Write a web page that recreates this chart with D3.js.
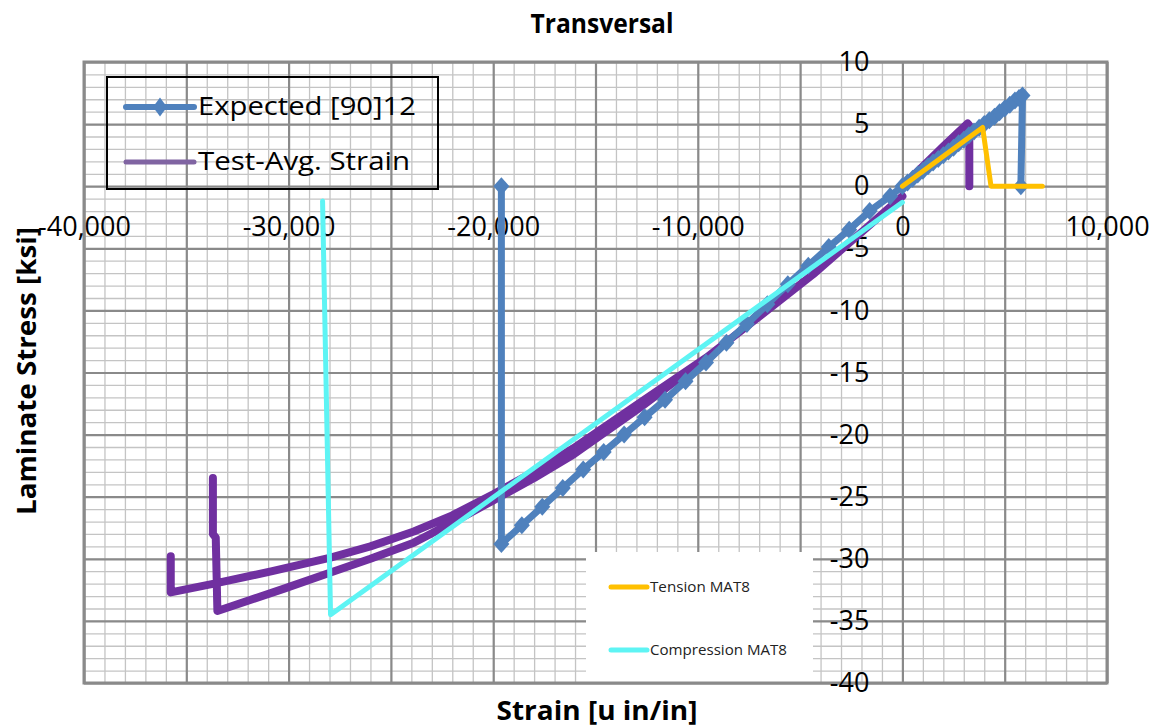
<!DOCTYPE html>
<html>
<head>
<meta charset="utf-8">
<script src="https://cdn.jsdelivr.net/npm/d3@7/dist/d3.min.js"></script>
<style>
  body { margin: 0; background: #fff; }
  text { font-family: "Open Sans", "DejaVu Sans", sans-serif; }
</style>
</head>
<body>
<svg id="chart" width="1164" height="727"></svg>
<script>
// values (strain in micro in/in, stress in ksi)

// Expected [90]12 (blue, diamond markers)
const expStrain = [-19600, -19600, -18600, -17600, -16600, -15600, -14600, -13600, -12600, -11600, -10600,
  -9600, -8600, -7600, -6600, -5600, -4600, -3600, -2600, -1600, -600, 0,
  250, 500, 750, 1000, 1250, 1500, 1750, 2000, 2250, 2500, 2750, 3000, 3250, 3500, 3750, 4000,
  4250, 4500, 4750, 5000, 5250, 5500, 5700, 5870, 5790]
const expStress = [0, -28.8, -27.3, -25.8, -24.3, -22.8, -21.4, -20.0, -18.6, -17.2, -15.7,
  -14.2, -12.6, -11.1, -9.5, -7.9, -6.4, -4.9, -3.5, -2.0, -0.8, 0,
  0.3, 0.6, 0.95, 1.25, 1.6, 1.9, 2.2, 2.5, 2.8, 3.1, 3.45, 3.75, 4.1, 4.4, 4.7, 5.0,
  5.3, 5.6, 5.95, 6.25, 6.55, 6.9, 7.1, 7.3, 0]

// Test-Avg. Strain (purple), null = break between specimens
const testStrain = [0, 1000, 2000, 3190, 3270, 3270, null,
  0, -2000, -4370, -7000, -9580, -12800, -16080, -18000, -20000, -22000, -23880, -26000, -27950, -30800, -33640, -35760, -35760, null,
  -9580, -12800, -16080, -18000, -20000, -22000, -23880, -26000, -27950, -30220, -33480, -33560, -33700, -33700]
const testStress = [0, 1.6, 3.2, 5.05, 4.9, 0, null,
  -0.8, -3.7, -7.1, -10.5, -13.8, -17.4, -21.1, -23.0, -24.8, -26.5, -27.8, -29.0, -29.9, -31.0, -32.0, -32.7, -29.8, null,
  -13.8, -17.8, -21.6, -23.5, -25.3, -27.1, -28.7, -30.0, -31.1, -32.4, -34.2, -28.3, -28.0, -23.5]

// Tension MAT8 (orange)
const tenStrain = [0, 3920, 4330, 6840]
const tenStress = [0, 4.73, 0, 0]

// Compression MAT8 (cyan)
const compStrain = [-28340, -27950, 0]
const compStress = [-1.2, -34.5, -1.3]

const xTicks = [-40000, -30000, -20000, -10000, 0, 10000]
const yTicks = [-40, -35, -30, -25, -20, -15, -10, -5, 0, 5, 10]

const legendTop = ["Expected [90]12", "Test-Avg. Strain"]
const legendBottom = ["Tension MAT8", "Compression MAT8"]

const colors = {exp: "#4F81BD", test: "#7030A0", testLegend: "#8064A2", ten: "#FFC000", comp: "#5EF4F4"}

const zip = (a, b) => a.map((v, i) => (v === null ? null : [v, b[i]]))

const svg = d3.select('#chart')
const pLeft = 84, pRight = 1107, pTop = 62, pBottom = 683

const x = d3.scaleLinear().domain([-40000, 10000]).range([pLeft, pRight])
const y = d3.scaleLinear().domain([-40, 10]).range([pBottom, pTop])

const fmt = d3.formatLocale({decimal: ".", thousands: ",", grouping: [3], currency: ["", ""], minus: "-"}).format(",")

// gridlines: minor then major
const grid = (step, color, width) => {
	const gx = svg.append('g')
		.attr('transform', `translate(0,${pBottom})`)
		.call(d3.axisBottom(x).tickValues(d3.range(-40000, 10001, step)).tickSize(-(pBottom - pTop)).tickFormat(''))
	const gy = svg.append('g')
		.attr('transform', `translate(${pLeft},0)`)
		.call(d3.axisLeft(y).tickValues(d3.range(-40, 10.01, step / 1000)).tickSize(-(pRight - pLeft)).tickFormat(''))
	for (const g of [gx, gy]) {
		g.select('.domain').remove()
		g.selectAll('line').attr('stroke', color).attr('stroke-width', width)
	}
}
grid(1000, '#c4c4c4', 1.3)
grid(5000, '#8a8a8a', 2.2)

// second legend box hides the grid behind it
svg.append('rect')
	.attr('x', 586).attr('y', 552).attr('width', 227).attr('height', 131)
	.attr('fill', '#fff')

// plot border
svg.append('rect')
	.attr('x', pLeft).attr('y', pTop).attr('width', pRight - pLeft).attr('height', pBottom - pTop)
	.attr('fill', 'none').attr('stroke', '#8a8a8a').attr('stroke-width', 3)

// tick labels, crossing at zero like the excel chart
const xAxis = svg.append('g')
	.attr('transform', `translate(0,${y(0)})`)
	.call(d3.axisBottom(x).tickValues(xTicks).tickSize(0).tickPadding(31).tickFormat(fmt))
const yAxis = svg.append('g')
	.attr('transform', `translate(${x(0)},0)`)
	.call(d3.axisLeft(y).tickValues(yTicks).tickSize(0).tickPadding(33).tickFormat(fmt))
for (const g of [xAxis, yAxis]) {
	g.select('.domain').remove()
	g.attr('font-family', null).attr('font-size', 27)
	g.selectAll('text').attr('fill', '#000')
}

// titles
svg.append('text')
	.attr('x', 602).attr('y', 33)
	.attr('text-anchor', 'middle').attr('font-weight', 'bold').attr('font-size', 26)
	.attr('textLength', 143).attr('lengthAdjust', 'spacingAndGlyphs')
	.text('Transversal')
svg.append('text')
	.attr('x', 597).attr('y', 720)
	.attr('text-anchor', 'middle').attr('font-weight', 'bold').attr('font-size', 27)
	.attr('textLength', 201).attr('lengthAdjust', 'spacingAndGlyphs')
	.text('Strain [u in/in]')
svg.append('text')
	.attr('transform', 'translate(36,371) rotate(-90)')
	.attr('text-anchor', 'middle').attr('font-weight', 'bold').attr('font-size', 27)
	.attr('textLength', 288).attr('lengthAdjust', 'spacingAndGlyphs')
	.text('Laminate Stress [ksi]')

// series
const line = d3.line()
	.defined(d => d !== null)
	.x(d => x(d[0]))
	.y(d => y(d[1]))

const drawSeries = (data, color, width) => {
	svg.append('path')
		.datum(data)
		.attr('d', line)
		.attr('fill', 'none')
		.attr('stroke', color)
		.attr('stroke-width', width)
		.attr('stroke-linejoin', 'round')
		.attr('stroke-linecap', 'round')
}

const diamond = (cx, cy, rx, ry) => `M${cx},${cy - ry}L${cx + rx},${cy}L${cx},${cy + ry}L${cx - rx},${cy}Z`

drawSeries(zip(testStrain, testStress), colors.test, 8)

const expData = zip(expStrain, expStress)
drawSeries(expData, colors.exp, 7)
svg.append('g')
	.selectAll('path')
	.data(expData)
	.join('path')
	.attr('d', d => diamond(x(d[0]), y(d[1]), 8, 9))
	.attr('fill', colors.exp)

drawSeries(zip(tenStrain, tenStress), colors.ten, 5)
drawSeries(zip(compStrain, compStress), colors.comp, 5)

// legend 1 (top left, outlined, transparent)
svg.append('rect')
	.attr('x', 107).attr('y', 77).attr('width', 331).attr('height', 112)
	.attr('fill', 'none').attr('stroke', '#000').attr('stroke-width', 2)

const leg1 = [{y: 107, color: colors.exp, marker: true, w: 218}, {y: 162, color: colors.testLegend, marker: false, w: 212}]
leg1.forEach((d, i) => {
	svg.append('line')
		.attr('x1', 126).attr('x2', 194).attr('y1', d.y).attr('y2', d.y)
		.attr('stroke', d.color).attr('stroke-width', d.marker ? 6 : 5).attr('stroke-linecap', 'round')
	if (d.marker) {
		svg.append('path').attr('d', diamond(160, d.y, 7, 9.5)).attr('fill', d.color)
	}
	svg.append('text')
		.attr('x', 198).attr('y', d.y + 8)
		.attr('font-size', 25)
		.attr('textLength', d.w).attr('lengthAdjust', 'spacingAndGlyphs')
		.text(legendTop[i])
})

// legend 2 (bottom, white box)
const leg2 = [{y: 587, color: colors.ten, w: 100}, {y: 650, color: colors.comp, w: 137}]
leg2.forEach((d, i) => {
	svg.append('line')
		.attr('x1', 611).attr('x2', 647).attr('y1', d.y).attr('y2', d.y)
		.attr('stroke', d.color).attr('stroke-width', 5).attr('stroke-linecap', 'round')
	svg.append('text')
		.attr('x', 650).attr('y', d.y + 5)
		.attr('font-size', 15).attr('fill', '#222')
		.attr('textLength', d.w).attr('lengthAdjust', 'spacingAndGlyphs')
		.text(legendBottom[i])
})
</script>
</body>
</html>
